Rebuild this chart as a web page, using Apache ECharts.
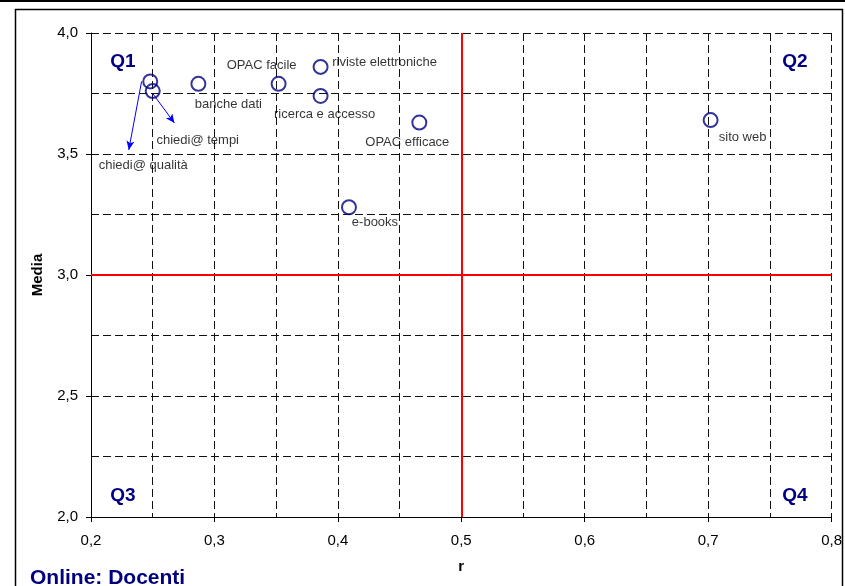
<!DOCTYPE html>
<html>
<head>
<meta charset="utf-8">
<script src="https://cdn.jsdelivr.net/npm/echarts@6/dist/echarts.min.js"></script>
<style>
  html, body { margin: 0; padding: 0; background: #fff; }
  #chart { width: 845px; height: 586px; }
</style>
</head>
<body>
<div id="chart"></div>
<script>
// Services: correlation r (x) against mean score (y)
const serviceNames = ['chiedi@ qualità', 'chiedi@ tempi', 'banche dati', 'OPAC facile',
  'riviste elettroniche', 'ricerca e accesso', 'OPAC efficace', 'e-books', 'sito web'];
const rValues = [0.248, 0.250, 0.287, 0.352, 0.386, 0.386, 0.466, 0.409, 0.702];
const mediaValues = [3.80, 3.76, 3.79, 3.79, 3.86, 3.74, 3.63, 3.28, 3.64];

// Quadrant thresholds
const rThreshold = 0.5;
const mediaThreshold = 3.0;

// Axis ranges
const xMin = 0.2, xMax = 0.8, xStep = 0.1;
const yMin = 2.0, yMax = 4.0, yStep = 0.5;

// Label placement (px offset from point centre to label centre)
const labelOffsets = [[-6, 85], [46, 50], [31, 22], [-16, -17], [65, -3], [5, 20], [-11, 21], [27, 16], [33, 18]];

// Leader arrows for the two overlapping chiedi@ points: [point index, start shift, end in data units]
const arrows = [
  { idx: 0, from: [-0.007, 0.0], to: [0.2306, 3.517] },
  { idx: 1, from: [0.0, -0.01], to: [0.2676, 3.628] }
];

const NAVY = '#000080';
const FONT = 'Arial, "Liberation Sans", sans-serif';
const SYMBOL_SIZE = 14;
const comma = v => v.toFixed(1).replace('.', ',');

const points = serviceNames.map((name, i) => ({
  name: name,
  value: [rValues[i], mediaValues[i]],
  label: {
    position: [SYMBOL_SIZE / 2 + labelOffsets[i][0], SYMBOL_SIZE / 2 + labelOffsets[i][1]]
  }
}));

const chart = echarts.init(document.getElementById('chart'), null, { renderer: 'canvas' });

const dashed = { color: '#111', width: 1, type: [8, 4] };

chart.setOption({
  backgroundColor: '#fff',
  animation: false,
  grid: { left: 91, right: 8, top: 33, bottom: 69, containLabel: false },
  xAxis: {
    type: 'value', min: xMin, max: xMax, interval: xStep,
    name: 'r', nameLocation: 'middle', nameGap: 42,
    nameTextStyle: { fontFamily: FONT, fontWeight: 'bold', fontSize: 15, color: '#000' },
    axisLine: { show: true, onZero: false, lineStyle: { color: '#000', width: 1 } },
    axisTick: { show: true, length: 5, inside: false, lineStyle: { color: '#000' } },
    axisLabel: { fontFamily: FONT, fontSize: 15, color: '#000', margin: 16, formatter: comma },
    splitLine: { show: true, lineStyle: dashed },
    minorTick: { show: false, splitNumber: 2 },
    minorSplitLine: { show: true, lineStyle: dashed }
  },
  yAxis: {
    type: 'value', min: yMin, max: yMax, interval: yStep,
    name: 'Media', nameLocation: 'middle', nameGap: 46, nameRotate: 90,
    nameTextStyle: { fontFamily: FONT, fontWeight: 'bold', fontSize: 15, color: '#000' },
    axisLine: { show: true, onZero: false, lineStyle: { color: '#000', width: 1 } },
    axisTick: { show: true, length: 5, inside: false, lineStyle: { color: '#000' } },
    axisLabel: { fontFamily: FONT, fontSize: 15, color: '#000', margin: 13, formatter: comma },
    splitLine: { show: true, lineStyle: dashed },
    minorTick: { show: false, splitNumber: 2 },
    minorSplitLine: { show: true, lineStyle: dashed }
  },
  series: [
    {
      // quadrant dividers
      type: 'line', data: [], silent: true,
      markLine: {
        silent: true, symbol: ['none', 'none'],
        label: { show: false },
        lineStyle: { color: '#ff0000', width: 2, type: 'solid' },
        data: [{ xAxis: rThreshold }, { yAxis: mediaThreshold }]
      },
      z: 3
    },
    {
      // leader arrows
      type: 'line', data: [], silent: true,
      markLine: {
        silent: true, symbol: ['none', 'arrow'], symbolSize: [6, 9],
        label: { show: false },
        lineStyle: { color: '#0000ff', width: 1, type: 'solid' },
        data: arrows.map(a => [
          { coord: [rValues[a.idx] + a.from[0], mediaValues[a.idx] + a.from[1]] },
          { coord: a.to }
        ])
      },
      z: 4
    },
    {
      type: 'scatter',
      data: points,
      symbol: 'circle', symbolSize: SYMBOL_SIZE,
      itemStyle: { color: 'rgba(255,255,255,0)', borderColor: NAVY, borderWidth: 2 },
      label: {
        show: true, formatter: '{b}',
        fontFamily: FONT, fontSize: 13, color: '#000',
        align: 'center', verticalAlign: 'middle'
      },
      labelLayout: { hideOverlap: false },
      z: 5
    }
  ],
  graphic: [
    { type: 'line', shape: { x1: 0, y1: 1, x2: 845, y2: 1 }, style: { stroke: '#000', lineWidth: 2 } },
    { type: 'rect', shape: { x: 15.5, y: 9.5, width: 827, height: 600 }, style: { fill: 'none', stroke: '#000', lineWidth: 1.5 }, z: -1 },
    { type: 'text', x: 123, y: 62, style: { text: 'Q1', fill: NAVY, font: 'bold 19px ' + FONT, textAlign: 'center', textVerticalAlign: 'middle' } },
    { type: 'text', x: 795, y: 62, style: { text: 'Q2', fill: NAVY, font: 'bold 19px ' + FONT, textAlign: 'center', textVerticalAlign: 'middle' } },
    { type: 'text', x: 123, y: 496, style: { text: 'Q3', fill: NAVY, font: 'bold 19px ' + FONT, textAlign: 'center', textVerticalAlign: 'middle' } },
    { type: 'text', x: 795, y: 496, style: { text: 'Q4', fill: NAVY, font: 'bold 19px ' + FONT, textAlign: 'center', textVerticalAlign: 'middle' } },
    { type: 'text', x: 30, y: 578, style: { text: 'Online: Docenti', fill: NAVY, font: 'bold 21px ' + FONT, textAlign: 'left', textVerticalAlign: 'middle' } }
  ]
});
</script>
</body>
</html>
